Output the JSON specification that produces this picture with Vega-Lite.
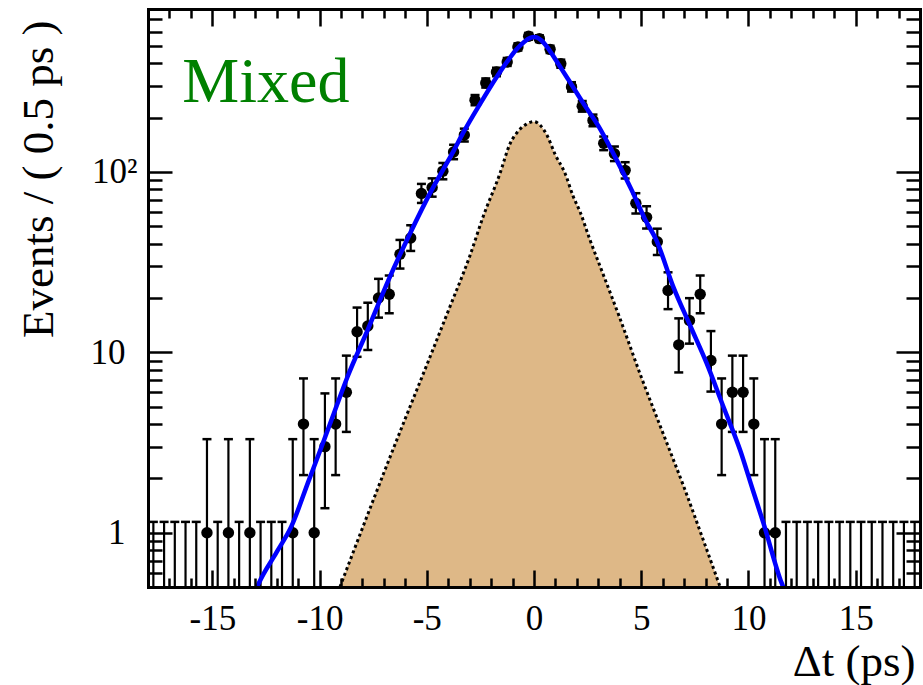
{
  "$schema": "https://vega.github.io/schema/vega-lite/v6.json",
  "width": 772,
  "height": 578,
  "autosize": {"type": "none"},
  "padding": {"left": 148, "top": 9, "right": 3, "bottom": 98},
  "background": "white",
  "config": {
    "view": {"stroke": null},
    "axis": {
      "labelFont": "Liberation Serif",
      "titleFont": "Liberation Serif",
      "labelColor": "black",
      "titleColor": "black",
      "tickColor": "black",
      "domainColor": "black",
      "grid": false,
      "titleFontWeight": "normal"
    }
  },
  "datasets": {
    "bins": [
      {"t": -17.75, "n": 0, "lo": 0.3, "hi": 1.148},
      {"t": -17.25, "n": 0, "lo": 0.3, "hi": 1.148},
      {"t": -16.75, "n": 0, "lo": 0.3, "hi": 1.148},
      {"t": -16.25, "n": 0, "lo": 0.3, "hi": 1.148},
      {"t": -15.75, "n": 0, "lo": 0.3, "hi": 1.148},
      {"t": -15.25, "n": 1, "lo": 0.173, "hi": 3.3},
      {"t": -14.75, "n": 0, "lo": 0.3, "hi": 1.148},
      {"t": -14.25, "n": 1, "lo": 0.173, "hi": 3.3},
      {"t": -13.75, "n": 0, "lo": 0.3, "hi": 1.148},
      {"t": -13.25, "n": 1, "lo": 0.173, "hi": 3.3},
      {"t": -12.75, "n": 0, "lo": 0.3, "hi": 1.148},
      {"t": -12.25, "n": 0, "lo": 0.3, "hi": 1.148},
      {"t": -11.75, "n": 0, "lo": 0.3, "hi": 1.148},
      {"t": -11.25, "n": 1, "lo": 0.173, "hi": 3.3},
      {"t": -10.75, "n": 4, "lo": 2.086, "hi": 7.163},
      {"t": -10.25, "n": 1, "lo": 0.173, "hi": 3.3},
      {"t": -9.75, "n": 3, "lo": 1.367, "hi": 5.918},
      {"t": -9.25, "n": 4, "lo": 2.086, "hi": 7.163},
      {"t": -8.75, "n": 6, "lo": 3.62, "hi": 9.584},
      {"t": -8.25, "n": 13, "lo": 9.441, "hi": 17.7},
      {"t": -7.75, "n": 14, "lo": 10.3, "hi": 18.83},
      {"t": -7.25, "n": 20, "lo": 15.57, "hi": 25.54},
      {"t": -6.75, "n": 21, "lo": 16.46, "hi": 26.65},
      {"t": -6.25, "n": 35, "lo": 29.12, "hi": 41.97},
      {"t": -5.75, "n": 43, "lo": 36.47, "hi": 50.61},
      {"t": -5.25, "n": 76, "lo": 67.3, "hi": 85.8},
      {"t": -4.75, "n": 82, "lo": 72.9, "hi": 92.1},
      {"t": -4.25, "n": 101, "lo": 91.0, "hi": 112.1},
      {"t": -3.75, "n": 129, "lo": 117.6, "hi": 141.4},
      {"t": -3.25, "n": 160, "lo": 147.4, "hi": 173.7},
      {"t": -2.75, "n": 250, "lo": 234.2, "hi": 266.8},
      {"t": -2.25, "n": 311, "lo": 293.4, "hi": 329.7},
      {"t": -1.75, "n": 358, "lo": 339.1, "hi": 377.9},
      {"t": -1.25, "n": 407, "lo": 386.8, "hi": 428.2},
      {"t": -0.75, "n": 493, "lo": 470.8, "hi": 516.2},
      {"t": -0.25, "n": 565, "lo": 541.2, "hi": 589.8},
      {"t": 0.25, "n": 548, "lo": 524.6, "hi": 572.4},
      {"t": 0.75, "n": 478, "lo": 456.1, "hi": 500.9},
      {"t": 1.25, "n": 398, "lo": 378.0, "hi": 419.0},
      {"t": 1.75, "n": 296, "lo": 278.8, "hi": 314.2},
      {"t": 2.25, "n": 231, "lo": 215.8, "hi": 247.2},
      {"t": 2.75, "n": 193, "lo": 179.1, "hi": 207.9},
      {"t": 3.25, "n": 144, "lo": 132.0, "hi": 157.0},
      {"t": 3.75, "n": 126, "lo": 114.8, "hi": 138.3},
      {"t": 4.25, "n": 102, "lo": 91.9, "hi": 113.2},
      {"t": 4.75, "n": 67, "lo": 58.8, "hi": 76.2},
      {"t": 5.25, "n": 56, "lo": 48.54, "hi": 64.53},
      {"t": 5.75, "n": 41, "lo": 34.63, "hi": 48.45},
      {"t": 6.25, "n": 22, "lo": 17.35, "hi": 27.76},
      {"t": 6.75, "n": 11, "lo": 7.734, "hi": 15.42},
      {"t": 7.25, "n": 15, "lo": 11.17, "hi": 19.96},
      {"t": 7.75, "n": 21, "lo": 16.46, "hi": 26.65},
      {"t": 8.25, "n": 9, "lo": 6.057, "hi": 13.11},
      {"t": 8.75, "n": 4, "lo": 2.086, "hi": 7.163},
      {"t": 9.25, "n": 6, "lo": 3.62, "hi": 9.584},
      {"t": 9.75, "n": 6, "lo": 3.62, "hi": 9.584},
      {"t": 10.25, "n": 4, "lo": 2.086, "hi": 7.163},
      {"t": 10.75, "n": 1, "lo": 0.173, "hi": 3.3},
      {"t": 11.25, "n": 1, "lo": 0.173, "hi": 3.3},
      {"t": 11.75, "n": 0, "lo": 0.3, "hi": 1.148},
      {"t": 12.25, "n": 0, "lo": 0.3, "hi": 1.148},
      {"t": 12.75, "n": 0, "lo": 0.3, "hi": 1.148},
      {"t": 13.25, "n": 0, "lo": 0.3, "hi": 1.148},
      {"t": 13.75, "n": 0, "lo": 0.3, "hi": 1.148},
      {"t": 14.25, "n": 0, "lo": 0.3, "hi": 1.148},
      {"t": 14.75, "n": 0, "lo": 0.3, "hi": 1.148},
      {"t": 15.25, "n": 0, "lo": 0.3, "hi": 1.148},
      {"t": 15.75, "n": 0, "lo": 0.3, "hi": 1.148},
      {"t": 16.25, "n": 0, "lo": 0.3, "hi": 1.148},
      {"t": 16.75, "n": 0, "lo": 0.3, "hi": 1.148},
      {"t": 17.25, "n": 0, "lo": 0.3, "hi": 1.148},
      {"t": 17.75, "n": 0, "lo": 0.3, "hi": 1.148}
    ],
    "fit": [
      {"t": -13.1, "v": 0.44}, {"t": -12.83, "v": 0.525}, {"t": -12.0, "v": 0.78},
      {"t": -11.32, "v": 1.08}, {"t": -10.5, "v": 1.95}, {"t": -9.95, "v": 2.9},
      {"t": -9.3, "v": 4.7}, {"t": -8.7, "v": 7.3}, {"t": -7.77, "v": 13.2},
      {"t": -6.72, "v": 26.2}, {"t": -5.78, "v": 45.6}, {"t": -4.78, "v": 79},
      {"t": -3.76, "v": 130}, {"t": -3.3, "v": 165}, {"t": -2.5, "v": 240},
      {"t": -1.74, "v": 336}, {"t": -1.2, "v": 417}, {"t": -0.81, "v": 478},
      {"t": -0.45, "v": 527}, {"t": -0.15, "v": 555}, {"t": 0.0, "v": 560}, {"t": 0.15, "v": 556},
      {"t": 0.35, "v": 535}, {"t": 0.6, "v": 495}, {"t": 1.0, "v": 420}, {"t": 1.6, "v": 325},
      {"t": 2.3, "v": 240}, {"t": 3.0, "v": 180}, {"t": 3.8, "v": 120},
      {"t": 4.56, "v": 79}, {"t": 5.2, "v": 54}, {"t": 5.7, "v": 42},
      {"t": 6.5, "v": 23}, {"t": 7.3, "v": 13.9}, {"t": 8.05, "v": 8.7},
      {"t": 8.8, "v": 5.1}, {"t": 9.61, "v": 2.87}, {"t": 10.2, "v": 1.73},
      {"t": 10.7, "v": 1.13}, {"t": 11.55, "v": 0.525}, {"t": 11.75, "v": 0.46}
    ],
    "bkg": [
      {"t": -9.05, "v": 0.5}, {"t": -8.0, "v": 1.06}, {"t": -7.0, "v": 2.15},
      {"t": -6.0, "v": 4.3}, {"t": -5.0, "v": 8.5}, {"t": -3.92, "v": 17.9},
      {"t": -3.0, "v": 34}, {"t": -2.36, "v": 57}, {"t": -1.6, "v": 97},
      {"t": -1.12, "v": 143}, {"t": -0.7, "v": 170}, {"t": -0.35, "v": 184},
      {"t": 0.0, "v": 190}, {"t": 0.3, "v": 181}, {"t": 0.59, "v": 161},
      {"t": 1.0, "v": 124}, {"t": 1.45, "v": 98}, {"t": 1.83, "v": 73},
      {"t": 2.15, "v": 60}, {"t": 2.61, "v": 42}, {"t": 3.08, "v": 30},
      {"t": 4.0, "v": 15.5}, {"t": 5.0, "v": 7.3}, {"t": 6.0, "v": 3.6},
      {"t": 7.0, "v": 1.78}, {"t": 8.0, "v": 0.84}, {"t": 8.68, "v": 0.5}
    ]
  },
  "resolve": {"axis": {"x": "independent", "y": "independent"}},
  "layer": [
    {
      "data": {"name": "bkg"},
      "mark": {"type": "area", "color": "#deb887", "opacity": 1, "interpolate": "monotone", "clip": true},
      "encoding": {
        "x": {"field": "t", "type": "quantitative", "scale": {"domain": [-18, 18], "nice": false, "zero": false},
          "axis": {"orient": "bottom", "values": [-15, -10, -5, 0, 5, 10, 15], "ticks": false, "tickSize": 0, "domain": false,
            "labelExpr": "datum.value < 0 ? '-' + abs(datum.value) : '' + datum.value",
            "labelPadding": 14, "labelFontSize": 35, "labelFlush": false, "labelOverlap": false,
            "title": "Δt (ps)", "titleFontSize": 45, "titleX": 767, "titleY": 88, "titleAlign": "right", "titleBaseline": "alphabetic"}},
        "y": {"field": "v", "type": "quantitative", "scale": {"type": "log", "domain": [0.5, 800], "nice": false},
          "axis": {"orient": "left", "values": [1, 10, 100], "ticks": false, "tickSize": 0, "domain": false,
            "labelExpr": "datum.value >= 100 ? '10²' : (datum.value >= 10 ? '10' : '1')",
            "labelPadding": {"condition": {"test": "datum.value >= 100", "value": 11}, "value": 23},
            "labelFontSize": 35, "labelAlign": "right", "labelBaseline": "middle", "labelOverlap": false, "labelFlush": false,
            "title": "Events / ( 0.5 ps )", "titleFontSize": 45, "titleX": -96, "titleY": 11, "titleAlign": "right", "titleAngle": 270, "titleBaseline": "alphabetic"}},
        "y2": {"datum": 0.5}
      }
    },
    {
      "data": {"name": "bkg"},
      "mark": {"type": "line", "color": "black", "strokeWidth": 3, "strokeDash": [3, 3], "interpolate": "monotone", "clip": true},
      "encoding": {
        "x": {"field": "t", "type": "quantitative", "scale": {"domain": [-18, 18], "nice": false, "zero": false},
          "axis": {"orient": "bottom", "values": [-15, -10, -5, 0, 5, 10, 15], "labels": false, "domain": true, "domainWidth": 3, "domainCap": "square",
            "tickSize": -17, "tickWidth": 2.5, "title": null, "zindex": 1}},
        "y": {"field": "v", "type": "quantitative", "scale": {"type": "log", "domain": [0.5, 800], "nice": false},
          "axis": {"orient": "left", "values": [1, 10, 100], "labels": false, "domain": true, "domainWidth": 3, "domainCap": "square",
            "tickSize": -24, "tickWidth": 2.5, "title": null, "zindex": 1}}
      }
    },
    {
      "data": {"name": "bins"},
      "mark": {"type": "rule", "color": "black", "strokeWidth": 2.2, "clip": true},
      "encoding": {
        "x": {"field": "t", "type": "quantitative", "scale": {"domain": [-18, 18], "nice": false, "zero": false},
          "axis": {"orient": "top", "values": [-15, -10, -5, 0, 5, 10, 15], "labels": false, "domain": true, "domainWidth": 3, "domainCap": "square",
            "tickSize": -17, "tickWidth": 2.5, "title": null, "zindex": 1}},
        "y": {"field": "lo", "type": "quantitative", "scale": {"type": "log", "domain": [0.5, 800], "nice": false},
          "axis": {"orient": "right", "values": [1, 10, 100], "labels": false, "domain": true, "domainWidth": 3, "domainCap": "square",
            "tickSize": -24, "tickWidth": 2.5, "title": null, "zindex": 1}},
        "y2": {"field": "hi"}
      }
    },
    {
      "data": {"name": "bins"},
      "mark": {"type": "tick", "orient": "horizontal", "color": "black", "size": 9, "thickness": 2.5, "opacity": 1, "clip": true},
      "encoding": {
        "x": {"field": "t", "type": "quantitative", "scale": {"domain": [-18, 18], "nice": false, "zero": false},
          "axis": {"orient": "top", "values": [-17, -16, -14, -13, -12, -11, -9, -8, -7, -6, -4, -3, -2, -1, 1, 2, 3, 4, 6, 7, 8, 9, 11, 12, 13, 14, 16, 17],
            "labels": false, "domain": false, "tickSize": -9, "tickWidth": 2.5, "title": null, "zindex": 1}},
        "y": {"field": "hi", "type": "quantitative", "scale": {"type": "log", "domain": [0.5, 800], "nice": false},
          "axis": {"orient": "right", "values": [0.6, 0.7, 0.8, 0.9, 2, 3, 4, 5, 6, 7, 8, 9, 20, 30, 40, 50, 60, 70, 80, 90, 200, 300, 400, 500, 600, 700],
            "labels": false, "domain": false, "tickSize": -14, "tickWidth": 2.5, "title": null, "zindex": 1}}
      }
    },
    {
      "data": {"name": "bins"},
      "mark": {"type": "tick", "orient": "horizontal", "color": "black", "size": 9, "thickness": 2.5, "opacity": 1, "clip": true},
      "encoding": {
        "x": {"field": "t", "type": "quantitative", "scale": {"domain": [-18, 18], "nice": false, "zero": false}, "axis": null},
        "y": {"field": "lo", "type": "quantitative", "scale": {"type": "log", "domain": [0.5, 800], "nice": false}, "axis": null}
      }
    },
    {
      "data": {"name": "bins"},
      "transform": [{"filter": "datum.n > 0"}],
      "mark": {"type": "circle", "color": "black", "size": 130, "opacity": 1, "clip": true},
      "encoding": {
        "x": {"field": "t", "type": "quantitative", "scale": {"domain": [-18, 18], "nice": false, "zero": false}, "axis": null},
        "y": {"field": "n", "type": "quantitative", "scale": {"type": "log", "domain": [0.5, 800], "nice": false}, "axis": null}
      }
    },
    {
      "data": {"name": "fit"},
      "mark": {"type": "line", "color": "#0000ff", "strokeWidth": 4.5, "interpolate": "monotone", "clip": true},
      "encoding": {
        "x": {"field": "t", "type": "quantitative", "scale": {"domain": [-18, 18], "nice": false, "zero": false},
          "axis": {"orient": "bottom", "values": [-17, -16, -14, -13, -12, -11, -9, -8, -7, -6, -4, -3, -2, -1, 1, 2, 3, 4, 6, 7, 8, 9, 11, 12, 13, 14, 16, 17],
            "labels": false, "domain": false, "tickSize": -9, "tickWidth": 2.5, "title": null, "zindex": 1}},
        "y": {"field": "v", "type": "quantitative", "scale": {"type": "log", "domain": [0.5, 800], "nice": false},
          "axis": {"orient": "left", "values": [0.6, 0.7, 0.8, 0.9, 2, 3, 4, 5, 6, 7, 8, 9, 20, 30, 40, 50, 60, 70, 80, 90, 200, 300, 400, 500, 600, 700],
            "labels": false, "domain": false, "tickSize": -14, "tickWidth": 2.5, "title": null, "zindex": 1}}
      }
    },
    {
      "data": {"values": [{"label": "Mixed", "t": -16.4, "v": 243}]},
      "mark": {"type": "text", "align": "left", "baseline": "alphabetic", "font": "Liberation Serif", "fontSize": 64, "color": "#008000"},
      "encoding": {
        "x": {"field": "t", "type": "quantitative", "scale": {"domain": [-18, 18], "nice": false, "zero": false}, "axis": null},
        "y": {"field": "v", "type": "quantitative", "scale": {"type": "log", "domain": [0.5, 800], "nice": false}, "axis": null},
        "text": {"field": "label"}
      }
    }
  ]
}
